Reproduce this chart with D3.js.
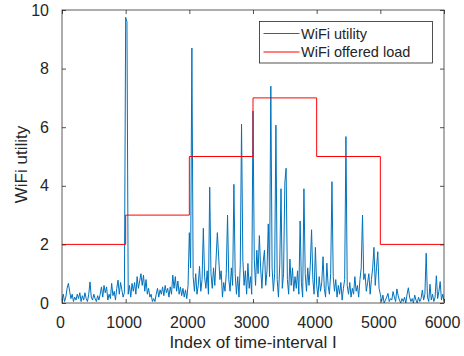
<!DOCTYPE html>
<html lang="en">

<head>
    <meta charset="UTF-8">
    <title>WiFi utility</title>
    <script src="https://cdn.jsdelivr.net/npm/d3@7"></script>
    <style>
        body { margin: 0; background: #fff; }
        svg { display: block; font-family: "Liberation Sans", Arial, sans-serif; }
    </style>
</head>

<body>
    <svg id="chart"></svg>

    <script>
        const sampleStep = 20
        const utility = [
            // 0 - 980
            0.1, 0.3, 0.05, 0.2, 0.5, 0.67, 0.4, 0.15, 0.3, 0.05,
            0.2, 0.1, 0.3, 0.15, 0.35, 0.05, 0.25, 0.1, 0.35, 0.15,
            0.05, 0.3, 0.72, 0.2, 0.1, 0.3, 0.15, 0.05, 0.25, 0.1,
            0.3, 0.55, 0.2, 0.6, 0.35, 0.55, 0.1, 0.3, 0.15, 0.67,
            0.25, 0.4, 0.1, 0.5, 0.78, 0.3, 0.7, 0.45, 0.2, 0.35,
            // 1000 - 1980
            9.75, 9.6, 0.3, 0.6, 0.2, 0.67, 0.4, 0.7, 0.3, 0.9,
            0.5, 0.75, 1.0, 0.6, 0.95, 0.4, 0.8, 0.3, 0.5, 0.2,
            0.3, 0.05, 0.15, 0.05, 0.3, 0.5, 0.2, 0.45, 0.3, 0.55,
            0.25, 0.6, 0.35, 0.5, 0.2, 0.55, 0.3, 0.95, 0.5, 0.9,
            0.4, 0.75, 0.3, 0.55, 0.25, 0.5, 0.2, 0.45, 0.15, 0.6,
            // 2000 - 2980
            2.4, 1.2, 8.7, 0.9, 0.4, 1.0, 0.3, 0.6, 1.25, 0.4,
            0.8, 2.55, 0.9, 0.5, 1.1, 0.3, 3.95, 1.0, 0.5, 1.2,
            0.6, 1.5, 2.4, 1.6, 0.8, 1.1, 0.2, 0.7, 0.4, 1.0,
            3.0, 0.8, 0.4, 1.2, 0.6, 4.05, 1.0, 0.3, 0.9, 0.2,
            1.3, 6.1, 1.5, 0.6, 1.1, 0.3, 1.35, 0.5, 0.9, 0.3,
            // 3000 - 3980
            6.55, 1.5, 0.6, 1.8, 1.0, 2.3, 1.2, 0.5, 1.4, 1.8,
            0.6, 1.1, 2.7, 0.9, 7.4, 1.2, 0.4, 1.0, 6.07, 0.8,
            0.2, 1.3, 3.9, 0.5, 1.0, 4.1, 4.6, 0.8, 0.3, 1.5,
            0.6, 1.2, 0.4, 0.9, 0.5, 1.1, 0.3, 2.8, 0.7, 0.2,
            3.9, 1.0, 0.4, 1.2, 0.6, 1.3, 2.5, 0.8, 0.3, 1.9,
            // 4000 - 4980
            0.6, 0.2, 0.9, 0.4, 0.7, 1.58, 0.5, 0.2, 1.36, 0.6,
            0.3, 1.0, 4.14, 0.9, 0.4, 0.8, 0.2, 0.6, 0.3, 0.7,
            0.1, 0.5, 0.8, 5.68, 0.6, 0.3, 0.7, 0.2, 0.5, 0.3,
            0.9, 0.4, 0.6, 0.2, 0.8, 1.2, 3.0, 0.8, 1.0, 0.4,
            0.7, 1.0, 0.3, 0.8, 1.2, 1.9, 0.6, 1.2, 1.75, 0.5,
            // 5000 - 6000
            0.3, 0.05, 0.27, 0.0, 0.1, 0.2, 0.33, 0.05, 0.15, 0.1,
            0.39, 0.2, 0.05, 0.48, 0.25, 0.1, 0.0, 0.15, 0.05, 0.2,
            0.0, 0.3, 0.52, 0.2, 0.05, 0.15, 0.0, 0.27, 0.1, 0.0,
            0.2, 0.05, 0.15, 0.44, 0.1, 0.3, 1.7, 0.2, 0.05, 0.64,
            0.1, 0.3, 0.05, 0.2, 0.93, 0.15, 0.4, 0.73, 0.1, 0.3, 0.05
        ]

        // offered load (step function)
        const loadEdges = [0, 1000, 2000, 3000, 4000, 5000, 6000]
        const loadLevels = [2, 3, 5, 7, 5, 2]

        const xTicks = [0, 1000, 2000, 3000, 4000, 5000, 6000]
        const yTicks = [0, 2, 4, 6, 8, 10]
        const legendLabels = ['WiFi utility', 'WiFi offered load']
        const seriesColors = ['#0072BD', '#FF0000']

        const W = 464, H = 356
        const margin = { top: 10, right: 20, bottom: 53, left: 62 }
        const iw = W - margin.left - margin.right
        const ih = H - margin.top - margin.bottom
        const axisColor = '#262626'
        const tickLen = 4

        const svg = d3.select('#chart').attr('width', W).attr('height', H)
        const g = svg.append('g').attr('transform', `translate(${margin.left},${margin.top})`)

        const x = d3.scaleLinear().domain([0, 6000]).range([0, iw])
        const y = d3.scaleLinear().domain([0, 10]).range([ih, 0])

        const utilityPts = utility.map((v, i) => [i * sampleStep, v])
        const loadPts = loadEdges.map((e, i) => [e, loadLevels[Math.min(i, loadLevels.length - 1)]])

        // data lines
        g.append('path')
            .datum(utilityPts)
            .attr('fill', 'none')
            .attr('stroke', seriesColors[0])
            .attr('stroke-width', 1)
            .attr('stroke-linejoin', 'round')
            .attr('d', d3.line().x(d => x(d[0])).y(d => y(d[1])))

        g.append('path')
            .datum(loadPts)
            .attr('fill', 'none')
            .attr('stroke', seriesColors[1])
            .attr('stroke-width', 1)
            .attr('d', d3.line().x(d => x(d[0])).y(d => y(d[1])).curve(d3.curveStepAfter))

        // axes, ticks inward, box on all four sides
        const styleAxis = (sel) => {
            sel.select('.domain').remove()
            sel.selectAll('.tick line').attr('stroke', axisColor).attr('stroke-width', 0.8)
            sel.selectAll('.tick text').attr('fill', axisColor).style('font-size', '16px')
        }

        g.append('g')
            .attr('transform', `translate(0,${ih})`)
            .call(d3.axisBottom(x).tickValues(xTicks).tickSize(-tickLen).tickPadding(14).tickFormat(d3.format('d')))
            .call(styleAxis)
            .call(s => s.selectAll('.tick text').attr('dx', -2))

        g.append('g')
            .call(d3.axisTop(x).tickValues(xTicks).tickSize(-tickLen).tickFormat(''))
            .call(styleAxis)

        g.append('g')
            .call(d3.axisLeft(y).tickValues(yTicks).tickSize(-tickLen).tickPadding(13))
            .call(styleAxis)

        g.append('g')
            .attr('transform', `translate(${iw},0)`)
            .call(d3.axisRight(y).tickValues(yTicks).tickSize(-tickLen).tickFormat(''))
            .call(styleAxis)

        g.append('rect')
            .attr('x', 0).attr('y', 0)
            .attr('width', iw).attr('height', ih)
            .attr('fill', 'none')
            .attr('stroke', axisColor)
            .attr('stroke-opacity', 0.75)
            .attr('stroke-width', 1)

        // axis labels
        svg.append('text')
            .attr('x', margin.left + iw / 2)
            .attr('y', 348)
            .attr('text-anchor', 'middle')
            .attr('fill', axisColor)
            .style('font-size', '17px')
            .text('Index of time-interval I')

        svg.append('text')
            .attr('transform', `translate(27,${margin.top + ih / 2 + 8}) rotate(-90)`)
            .attr('text-anchor', 'middle')
            .attr('fill', axisColor)
            .style('font-size', '17px')
            .text('WiFi utility')

        // legend
        const legend = svg.append('g').attr('transform', 'translate(259.5,21.5)')
        legend.append('rect')
            .attr('width', 173).attr('height', 41.5)
            .attr('fill', '#fff')
            .attr('stroke', '#262626')
            .attr('stroke-width', 0.8)

        legendLabels.forEach((label, i) => {
            const cy = 12 + i * 18.5
            legend.append('line')
                .attr('x1', 4).attr('x2', 40)
                .attr('y1', cy).attr('y2', cy)
                .attr('stroke', seriesColors[i])
                .attr('stroke-width', 1)
            legend.append('text')
                .attr('x', 41.5).attr('y', cy)
                .attr('dy', '0.35em')
                .attr('fill', axisColor)
                .style('font-size', '14.5px')
                .text(label)
        })
    </script>
</body>

</html>
